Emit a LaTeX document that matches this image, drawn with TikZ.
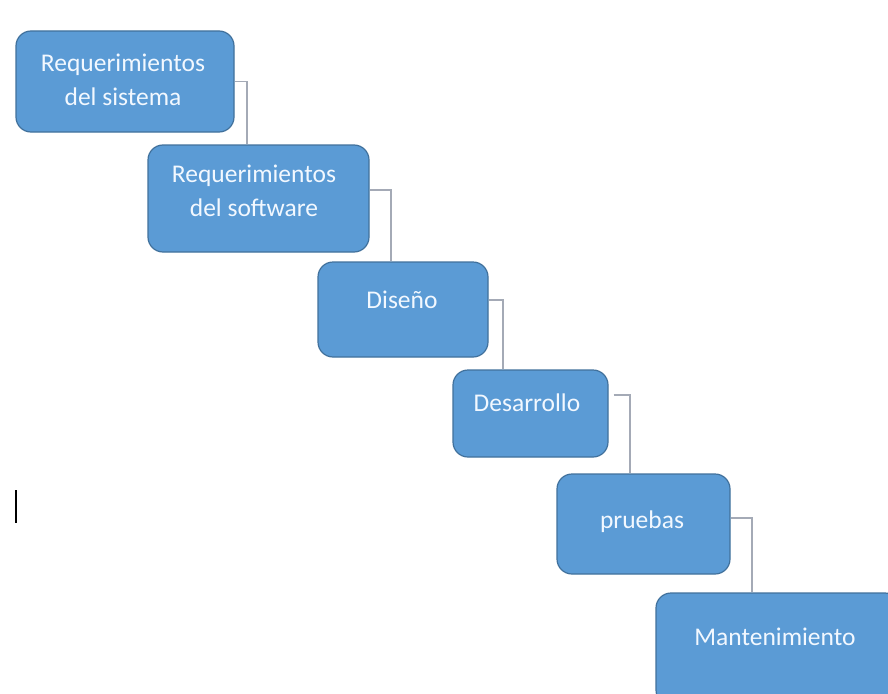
\documentclass[tikz,border=0pt]{standalone}
\usepackage{fontspec}
\setmainfont{Carlito}
\begin{document}
\begin{tikzpicture}[x=1pt,y=-1pt,
  box/.style={draw=boxline,fill=boxfill,line width=1.2pt,rounded corners=15pt,inner sep=0pt},
  txt/.style={text=boxtext,font=\fontsize{25.5}{34}\selectfont,align=center,inner sep=0pt},
  conn/.style={draw=connc,line width=1.5pt}]
\definecolor{boxfill}{HTML}{5B9BD5}
\definecolor{boxline}{HTML}{41719C}
\definecolor{boxtext}{HTML}{F2F8FF}
\definecolor{connc}{HTML}{A4AAB6}
\useasboundingbox (0,0) rectangle (888,693);
\clip (0,0) rectangle (888,693);
\fill[white] (0,0) rectangle (888,693);
% boxes
\node[box,minimum width=218pt,minimum height=101pt] (b1) at (125,81.5) {};
\node[box,minimum width=221pt,minimum height=107pt] (b2) at (258.5,198.5) {};
\node[box,minimum width=170pt,minimum height=95pt] (b3) at (403,309.5) {};
\node[box,minimum width=155pt,minimum height=87pt] (b4) at (530.5,413.5) {};
\node[box,minimum width=173pt,minimum height=100pt] (b5) at (643.5,524) {};
\node[box,minimum width=244pt,minimum height=112pt] (b6) at (778,649) {};
% texts
\node[txt] (t1) at (123,80) {Requerimientos\\del sistema};
\node[txt] (t2) at (254,191) {Requerimientos\\del software};
\node[txt] (t3) at (402,300) {Diseño};
\node[txt] (t4) at (527,403) {Desarrollo};
\node[txt] (t5) at (642,522) {pruebas};
\node[txt] (t6) at (775,637) {Mantenimiento};
% connector corners
\coordinate (k1) at (247,81.5);
\coordinate (k2) at (391,190);
\coordinate (k3) at (503,300);
\coordinate (k4) at (630,395);
\coordinate (k5) at (752,518);
\draw[conn] (b1.east |- k1) -- (k1) -- (b2.north -| k1);
\draw[conn] (b2.east |- k2) -- (k2) -- (b3.north -| k2);
\draw[conn] (b3.east |- k3) -- (k3) -- (b4.north -| k3);
\draw[conn] ([xshift=5pt]b4.east |- k4) -- (k4) -- (b5.north -| k4);
\draw[conn] (b5.east |- k5) -- (k5) -- (b6.north -| k5);
% text cursor
\coordinate (cur1) at (16,490);
\coordinate (cur2) at (16,523);
\draw[black,line width=1.6pt] (cur1) -- (cur2);
\end{tikzpicture}
\end{document}
